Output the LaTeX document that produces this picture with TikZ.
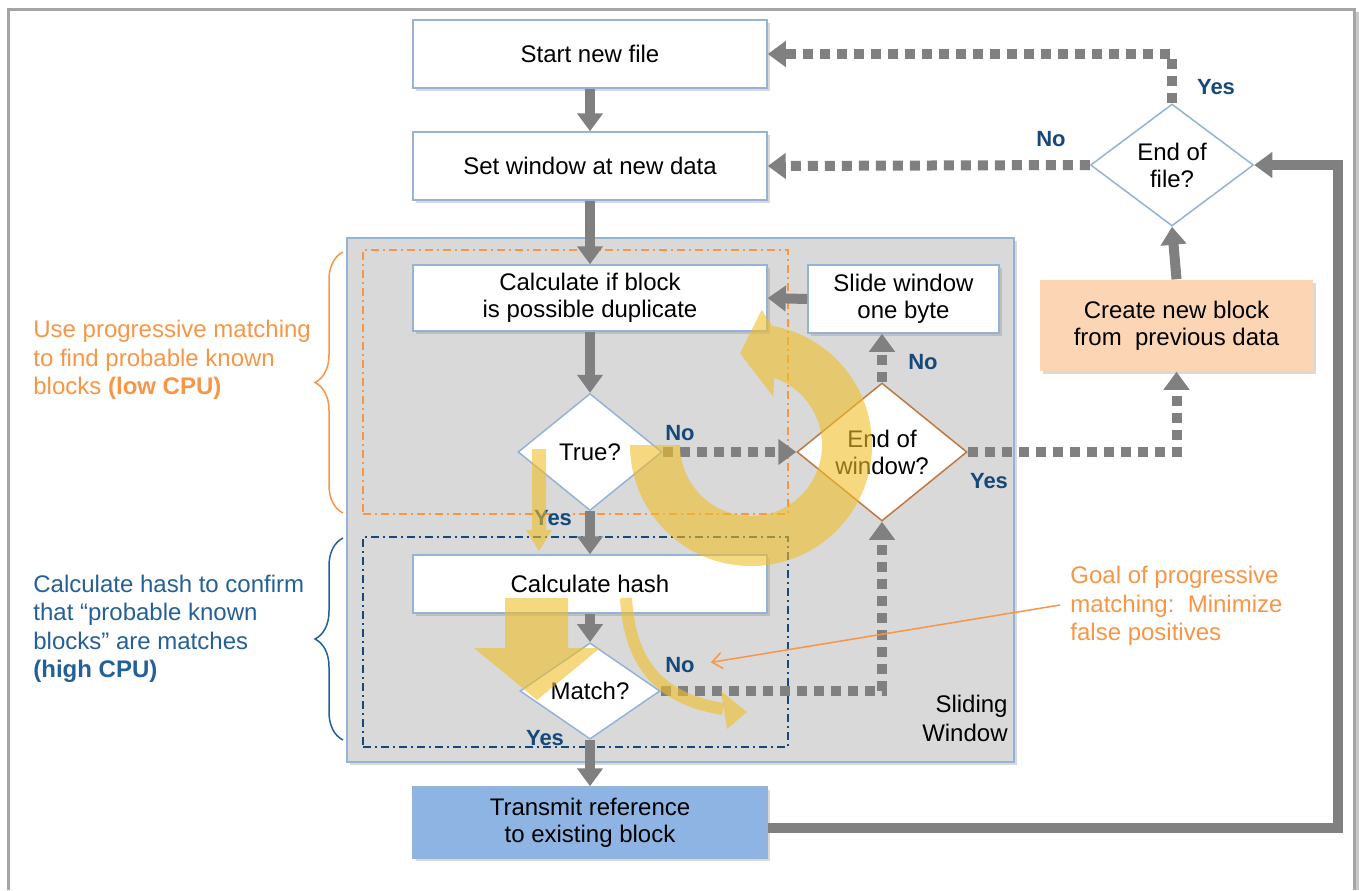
\documentclass[tikz,border=0pt]{standalone}
\usepackage{fontspec}
\setmainfont{Liberation Sans}
\usetikzlibrary{arrows.meta,shapes.geometric,shadows,decorations.pathreplacing,calc}

\definecolor{gline}{RGB}{128,128,128}
\definecolor{bborder}{RGB}{149,179,215}
\definecolor{winfill}{RGB}{217,217,217}
\definecolor{orng}{RGB}{247,150,70}
\definecolor{dblue}{RGB}{23,72,122}
\definecolor{tblue}{RGB}{36,96,152}
\definecolor{trfill}{RGB}{142,180,227}
\definecolor{crfill}{RGB}{252,213,181}
\definecolor{brn}{RGB}{192,120,64}
\definecolor{ylw}{RGB}{240,190,40}
\definecolor{framec}{RGB}{165,165,165}

\tikzset{
 box/.style={draw=bborder, line width=0.75pt, fill=white, rectangle, align=center,
   font=\fontsize{12}{13.5}\selectfont, inner sep=0pt,
   drop shadow={shadow xshift=1.5pt, shadow yshift=-1.5pt, opacity=0.3}},
 dia/.style={diamond, draw=bborder, line width=0.75pt, fill=white, align=center,
   inner sep=0pt, font=\fontsize{12}{13.5}\selectfont},
 solidarrow/.style={draw=gline, line width=5pt, -{Triangle[length=9pt,width=12.5pt]}},
 dotarrow/.style={solidarrow, dash pattern=on 5pt off 3.5pt},
 yn/.style={text=dblue, font=\fontsize{11}{12}\selectfont\bfseries, inner sep=0pt},
 ybrush/.style={fill=ylw, fill opacity=0.6, draw=none},
 sidetext/.style={align=left, anchor=west, inner sep=0pt, font=\fontsize{12}{14.25}\selectfont},
 dashrect/.style={line width=0.75pt, dash pattern=on 4pt off 2pt on 1pt off 2pt},
 bracestyle/.style={line width=0.75pt, decorate, decoration={brace, amplitude=14pt}},
}

\begin{document}
\begin{tikzpicture}[x=0.5pt,y=0.5pt]
\useasboundingbox (0,0) rectangle (1359,-890);

% outer frame
\draw[framec!60, line width=2pt] (1357,-12) -- (1357,-890);
\draw[framec, line width=1.5pt] (8,-890) -- (8,-9) -- (1354,-9) -- (1354,-890);

% sliding window area
\node[draw=bborder, line width=0.75pt, fill=winfill, minimum width=333.5pt, minimum height=262pt,
  inner sep=0pt, drop shadow={shadow xshift=1.5pt, shadow yshift=-1.5pt, opacity=0.3}] (sw) at (680.5,-500) {};
\node[draw=orng, dashrect, minimum width=212.5pt, minimum height=132pt, inner sep=0pt] (orect) at (575.5,-382) {};
\node[draw=dblue, dashrect, minimum width=212.5pt, minimum height=105pt, inner sep=0pt] (brect) at (575.5,-642) {};
\node[anchor=east, align=right, inner sep=0pt, font=\fontsize{12}{14.5}\selectfont] (swlabel) at (1008,-718) {Sliding\\Window};

% boxes
\node[box, minimum width=177pt, minimum height=34pt] (start) at (590,-54) {Start new file};
\node[box, minimum width=177pt, minimum height=34pt] (setw) at (590,-166) {Set window at new data};
\node[box, minimum width=177pt, minimum height=33pt] (calc) at (590,-298) {Calculate if block\\is possible duplicate};
\node[box, minimum width=95.5pt, minimum height=34pt] (slide) at (903.5,-299) {Slide window\\one byte};
\node[box, minimum width=177pt, minimum height=29pt] (hash) at (590,-584) {Calculate hash};
\node[box, fill=trfill, minimum width=177pt, minimum height=35.5pt] (trans) at (590,-822.5) {Transmit reference\\to existing block};
\node[box, draw=none, fill=crfill, minimum width=136.5pt, minimum height=45.5pt] (create) at (1176.5,-325.5) {Create new block\\from\ \ previous data};

% diamonds
\node[dia, minimum width=81.5pt, minimum height=61pt] (eof) at (1172,-165) {End of\\file?};
\node[dia, minimum width=72pt, minimum height=58.5pt] (true) at (590,-452) {True?};
\node[dia, draw=brn, minimum width=85pt, minimum height=65.5pt] (eow) at (882,-452) {End of\\window?};
\node[dia, minimum width=70pt, minimum height=46pt] (match) at (590,-691) {Match?};

% solid connectors
\draw[solidarrow] (start.south) -- (setw.north);
\draw[solidarrow] (setw.south) -- (calc.north);
\draw[solidarrow] (slide.west) -- (calc.east);
\draw[solidarrow] (calc.south) -- (true.north);
\draw[solidarrow] (true.south) -- (hash.north);
\draw[solidarrow] (hash.south) -- (match.north);
\draw[solidarrow] (match.south) -- (trans.north);
\draw[solidarrow] (create.north) -- (eof.south);
\coordinate (rc) at (1338,-828);
\draw[solidarrow] (trans.east |- rc) -- (rc) |- (eof.east);

% dotted connectors
\draw[dotarrow] (eof.north) |- (start.east);
\draw[dotarrow] (eof.west) -- (setw.east);
\draw[dotarrow] (true.east) -- (eow.west);
\draw[dotarrow] (eow.north) -- (eow.north |- slide.south);
\draw[dotarrow] (eow.east) -| (create.south);
\draw[dotarrow] (match.east) -| (eow.south);

% yes / no labels
\node[yn] (yes1) at (1216,-87) {Yes};
\node[yn] (no1) at (1051,-139) {No};
\node[yn] (no2) at (680,-433) {No};
\node[yn] (no3) at (923,-362) {No};
\node[yn] (yes2) at (989,-481) {Yes};
\node[yn] (yes3) at (553,-518) {Yes};
\node[yn] (no4) at (680,-665) {No};
\node[yn] (yes4) at (545,-738) {Yes};

% side texts
\node[sidetext, text=orng] (lowcpu) at (33,-360) {Use progressive matching\\to find probable known\\blocks \textbf{(low CPU)}};
\node[sidetext, text=tblue] (highcpu) at (33,-629) {Calculate hash to confirm\\that “probable known\\blocks” are matches\\\textbf{(high CPU)}};
\draw[orng, bracestyle] (343,-513) -- (343,-252);
\draw[tblue, bracestyle] (343,-740) -- (343,-538);

% goal annotation
\node[sidetext, text=orng] (goal) at (1070,-606) {Goal of progressive\\matching:\ \ Minimize\\false positives};
\coordinate (gs) at (1060,-605);
\draw[orng, line width=0.75pt, -{Straight Barb[length=5pt,width=8pt]}, shorten >=8pt] (gs) -- (no4.east);

% yellow highlight arrows
\coordinate (C) at (751,-445);
\fill[ybrush] (761.7,-310) -- (740,-353.3) -- (773.3,-396.7) -- ($(C)+(71:71)$)
  arc[start angle=71,end angle=-180,radius=71] -- ($(C)+(180:121)$)
  arc[start angle=180,end angle=440,radius=121] -- cycle;
\fill[ybrush] (532,-449) -- (546,-449) -- (546,-530) -- (552,-530) -- (539,-551) -- (526,-530) -- (532,-530) -- cycle;
\fill[ybrush] (505,-598) -- (568,-598) -- (568,-648) -- (600,-648) -- (537,-700) -- (474,-648) -- (505,-648) -- cycle;
\draw[draw=ylw, draw opacity=0.6, line width=6pt] (626,-598) .. controls (630,-672) and (668,-700) .. (723,-709);
\fill[ybrush] (721,-691) -- (747,-712) -- (727,-729) -- cycle;

\end{tikzpicture}
\end{document}
